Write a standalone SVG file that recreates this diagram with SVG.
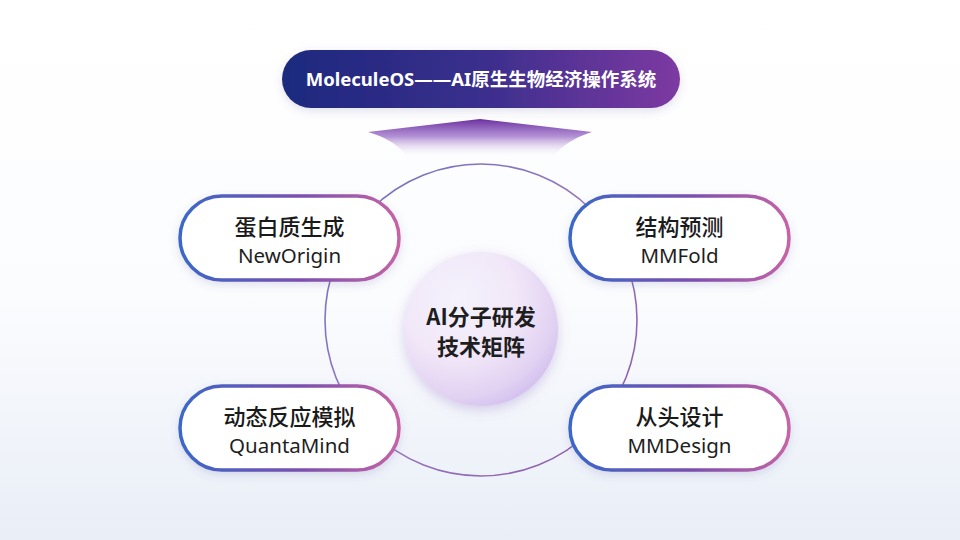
<svg xmlns="http://www.w3.org/2000/svg" width="960" height="540" viewBox="0 0 960 540">
<defs>
<linearGradient id="bg" x1="0" y1="0" x2="0" y2="1">
<stop offset="0" stop-color="#ffffff"/>
<stop offset="0.55" stop-color="#fbfcfe"/>
<stop offset="1" stop-color="#e9eef7"/>
</linearGradient>
<linearGradient id="banner" x1="0" y1="0" x2="1" y2="0">
<stop offset="0" stop-color="#1c2a7e"/>
<stop offset="0.5" stop-color="#3a2e8c"/>
<stop offset="1" stop-color="#7d3aa2"/>
</linearGradient>
<linearGradient id="arrow" x1="0" y1="0" x2="0" y2="1">
<stop offset="0" stop-color="#6a2fa0"/>
<stop offset="0.45" stop-color="#9a6cc6" stop-opacity="0.75"/>
<stop offset="1" stop-color="#ffffff" stop-opacity="0"/>
</linearGradient>
<linearGradient id="ring" x1="0" y1="0" x2="1" y2="1">
<stop offset="0" stop-color="#6a6fc0"/>
<stop offset="0.5" stop-color="#9a78c0"/>
<stop offset="1" stop-color="#8a5aa8"/>
</linearGradient>
<linearGradient id="pill" x1="0" y1="0" x2="1" y2="0">
<stop offset="0" stop-color="#3a68c8"/>
<stop offset="0.55" stop-color="#7a4fae"/>
<stop offset="1" stop-color="#c564a6"/>
</linearGradient>
<radialGradient id="core" cx="0.35" cy="0.3" r="0.85">
<stop offset="0" stop-color="#f4f2fc"/>
<stop offset="0.45" stop-color="#f1e7f8"/>
<stop offset="0.75" stop-color="#e2d2f2"/>
<stop offset="1" stop-color="#c7b3ec"/>
</radialGradient>
<filter id="sh" x="-20%" y="-30%" width="140%" height="160%">
<feDropShadow dx="0" dy="3" stdDeviation="4" flood-color="#5a5f9a" flood-opacity="0.18"/>
</filter>
<filter id="csh" x="-30%" y="-30%" width="160%" height="160%">
<feDropShadow dx="0" dy="4" stdDeviation="6" flood-color="#8a6fc0" flood-opacity="0.3"/>
</filter>
<style>
.box{fill:#ffffff;stroke:url(#pill);stroke-width:3.5;filter:url(#sh)}
.t1{font-family:"Noto Sans CJK SC","Noto Sans",sans-serif;font-size:22px;font-weight:500;fill:#1a1a1a;text-anchor:middle}
.t2{font-family:"Noto Sans","Noto Sans CJK SC",sans-serif;font-size:20.5px;font-weight:400;fill:#1e1e1e;text-anchor:middle}
.ct{font-family:"Noto Sans CJK SC","Noto Sans",sans-serif;font-size:22px;font-weight:700;fill:#1e1e1e;text-anchor:middle}
</style>
</defs>
<rect width="960" height="540" fill="url(#bg)"/>
<g id="connectors">
<circle cx="481" cy="320" r="156" fill="none" stroke="url(#ring)" stroke-width="1.6"/>
<path d="M480 119 L368 132 Q396 140 408 158 L552 158 Q566 140 592 132 Z" fill="url(#arrow)"/>
</g>
<g id="banner">
<rect x="282" y="50" width="398" height="58" rx="29" fill="url(#banner)" filter="url(#sh)"/>
<text x="481" y="85.5" font-family="'Noto Sans','Noto Sans CJK SC',sans-serif" font-size="18.5" font-weight="700" fill="#ffffff" text-anchor="middle">MoleculeOS——AI原生生物经济操作系统</text>
</g>
<g id="core">
<circle cx="481" cy="329" r="77" fill="url(#core)" filter="url(#csh)"/>
<text class="ct" x="481" y="325">AI分子研发</text>
<text class="ct" x="481" y="355">技术矩阵</text>
</g>
<g id="node-newOrigin">
<rect class="box" x="180" y="196" width="219" height="84" rx="42"/>
<text class="t1" x="289.5" y="235">蛋白质生成</text>
<text class="t2" x="289.5" y="263">NewOrigin</text>
</g>
<g id="node-mmfold">
<rect class="box" x="570" y="196" width="219" height="84" rx="42"/>
<text class="t1" x="679.5" y="235">结构预测</text>
<text class="t2" x="679.5" y="263">MMFold</text>
</g>
<g id="node-quantamind">
<rect class="box" x="180" y="386" width="219" height="84" rx="42"/>
<text class="t1" x="289.5" y="425">动态反应模拟</text>
<text class="t2" x="289.5" y="453">QuantaMind</text>
</g>
<g id="node-mmdesign">
<rect class="box" x="570" y="386" width="219" height="84" rx="42"/>
<text class="t1" x="679.5" y="425">从头设计</text>
<text class="t2" x="679.5" y="453">MMDesign</text>
</g>
</svg>
